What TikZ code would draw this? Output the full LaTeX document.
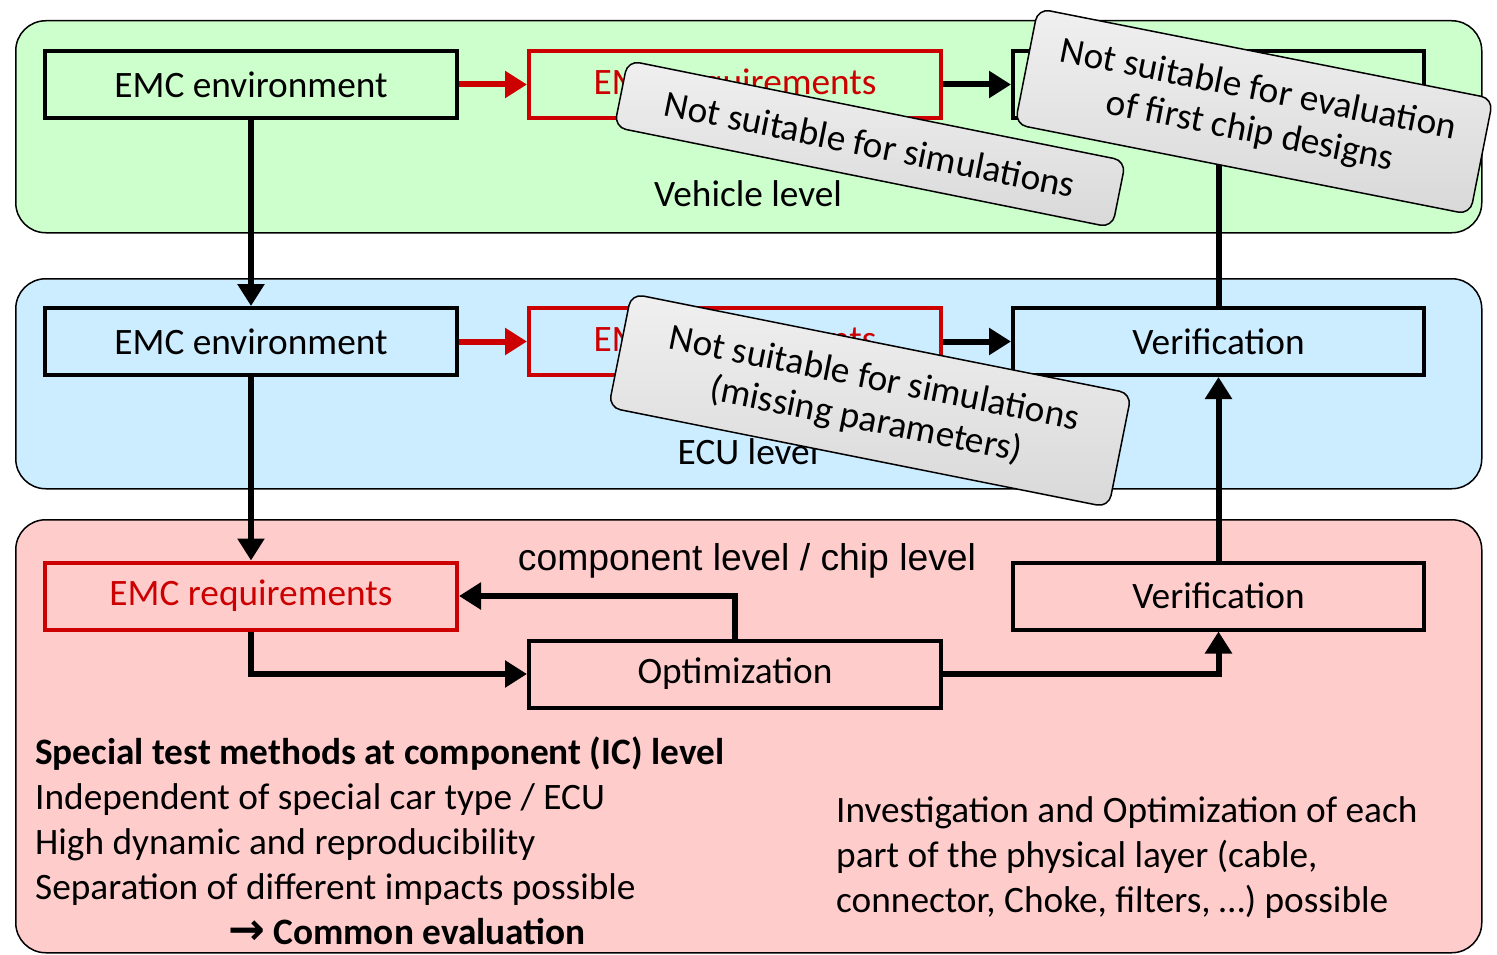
\documentclass[tikz,border=0pt]{standalone}
\usepackage{fontspec}
\setmainfont{Carlito}
\newfontfamily\arialf{Liberation Sans}
\newfontfamily\djv{DejaVu Sans}
\usetikzlibrary{arrows.meta}
\definecolor{bandgreen}{HTML}{CCFFCC}
\definecolor{bandblue}{HTML}{CCECFF}
\definecolor{bandred}{HTML}{FFCCCC}
\definecolor{emcred}{HTML}{CC0000}
\begin{document}
\begin{tikzpicture}[x=1pt,y=-1pt,
 band/.style={draw=black, line width=1.5pt, rounded corners=30pt, minimum width=1466pt, anchor=north west, inner sep=0pt},
 box/.style={draw=black, line width=4pt, minimum width=412pt, minimum height=67pt, inner sep=0pt, font=\fontsize{37.3}{44}\selectfont},
 redbox/.style={box, draw=emcred, text=emcred},
 flow/.style={line width=6pt, -{Triangle[length=22pt,width=26pt]}},
 redflow/.style={flow, draw=emcred, fill=emcred},
 note/.style={draw=black, line width=1.5pt, rounded corners=12pt, top color=gray!12, middle color=gray!52, bottom color=gray!30, font=\fontsize{37.3}{42}\selectfont, align=center, inner sep=0pt},
 lbl/.style={font=\fontsize{37.3}{44}\selectfont},
 txt/.style={font=\fontsize{37.3}{45}\selectfont, anchor=base west, inner sep=0pt}
]
\useasboundingbox (0,0) rectangle (1497,955);
% bands
\node[band, fill=bandgreen, minimum height=212pt] (vband) at (15,20) {};
\node[band, fill=bandblue, minimum height=210pt] (eband) at (15,278) {};
\node[band, fill=bandred, minimum height=433pt] (cband) at (15,519) {};
% vehicle row
\node[box] (ve) at (251,84.5) {EMC environment};
\node[redbox] (vr) at (735,84.5) {EMC requirements};
\node[box, minimum width=411pt] (vv) at (1218.5,84.5) {};
% ECU row
\node[box] (ee) at (251,341.5) {EMC environment};
\node[redbox] (er) at (735,341.5) {EMC requirements};
\node[box, minimum width=411pt] (ev) at (1218.5,341.5) {Verification};
% component row
\node[redbox] (cr) at (251,596) {EMC requirements};
\node[box, minimum width=411pt] (cv) at (1218.5,596) {Verification};
\node[box] (opt) at (735,674) {Optimization};
% labels
\node[lbl] (vlab) at (748,194) {Vehicle level};
\node[lbl] (elab) at (748,452) {ECU level};
\node[font=\arialf\fontsize{37.3}{44}\selectfont] (clab) at (747,561) {component level / chip level};
% connectors
\draw[redflow] (ve.east) -- (vr.west);
\draw[flow] (vr.east) -- (vv.west);
\draw[redflow] (ee.east) -- (er.west);
\draw[flow] (er.east) -- (ev.west);
\draw[flow] (ve.south) -- (ee.north);
\draw[flow] (ee.south) -- (cr.north);
\draw[flow] (cr.south) |- (opt.west);
\draw[flow] (opt.north) |- (cr.east);
\draw[flow] (opt.east) -| (cv.south);
\draw[flow] (cv.north) -- (ev.south);
\draw[flow] (ev.north) -- (vv.south);
% bottom texts
\node[txt] (t1) at (35,764) {\bfseries Special test methods at component (IC) level};
\node[txt] (t2) at (35,809) {Independent of special car type / ECU};
\node[txt] (t3) at (35,854) {High dynamic and reproducibility};
\node[txt] (t4) at (35,899) {Separation of different impacts possible};
\node[txt] (t5) at (228,944) {\bfseries{\djv\bfseries\fontsize{44}{45}\selectfont →} Common evaluation};
\node[txt] (r1) at (836,822) {Investigation and Optimization of each};
\node[txt] (r2) at (836,867) {part of the physical layer (cable,};
\node[txt] (r3) at (836,912) {connector, Choke, filters, …) possible};
% callouts
\node[note, minimum width=508pt, minimum height=68pt, rotate=-11.4] (n1) at (870,144) {Not suitable for simulations};
\node[note, minimum width=464pt, minimum height=118pt, rotate=-11.2] (n2) at (1254,111.5) {Not suitable for evaluation\\of first chip designs};
\node[note, minimum width=510pt, minimum height=116pt, rotate=-11.3] (n3) at (870,400.5) {Not suitable for simulations\\(missing parameters)};
\end{tikzpicture}
\end{document}
